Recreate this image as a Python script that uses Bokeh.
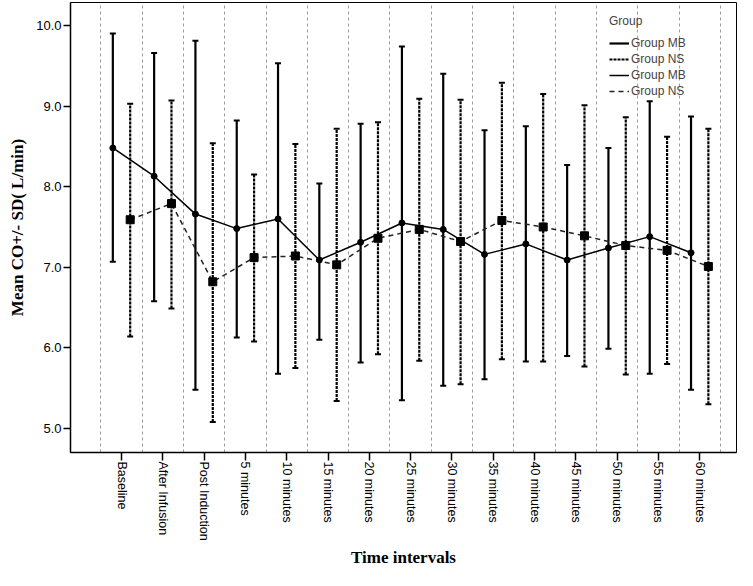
import math
from bokeh.plotting import figure
from bokeh.models import (ColumnDataSource, FixedTicker, Legend, LegendItem, Range1d)
from bokeh.embed import file_html
from bokeh.resources import INLINE

categories = ["Baseline", "After Infusion", "Post Induction", "5 minutes", "10 minutes",
              "15 minutes", "20 minutes", "25 minutes", "30 minutes", "35 minutes",
              "40 minutes", "45 minutes", "50 minutes", "55 minutes", "60 minutes"]
mb_mean = [8.48, 8.13, 7.66, 7.48, 7.60, 7.09, 7.31, 7.55, 7.47, 7.16, 7.29, 7.09, 7.24, 7.38, 7.18]
mb_upper = [9.90, 9.66, 9.81, 8.82, 9.53, 8.04, 8.78, 9.74, 9.40, 8.70, 8.75, 8.27, 8.48, 9.06, 8.87]
mb_lower = [7.07, 6.58, 5.48, 6.13, 5.68, 6.10, 5.82, 5.35, 5.53, 5.61, 5.83, 5.90, 5.99, 5.68, 5.48]
ns_mean = [7.59, 7.79, 6.82, 7.12, 7.14, 7.03, 7.36, 7.47, 7.32, 7.58, 7.50, 7.39, 7.27, 7.21, 7.01]
ns_upper = [9.03, 9.07, 8.54, 8.15, 8.53, 8.72, 8.80, 9.09, 9.08, 9.29, 9.15, 9.01, 8.86, 8.62, 8.72]
ns_lower = [6.14, 6.49, 5.08, 6.08, 5.75, 5.34, 5.92, 5.84, 5.55, 5.86, 5.83, 5.77, 5.67, 5.80, 5.30]
y_ticks = [5.0, 6.0, 7.0, 8.0, 9.0, 10.0]

n = len(categories)
idx = list(range(n))
dodge = 0.21
mb_x = [i - dodge for i in idx]
ns_x = [i + dodge for i in idx]

mb_src = ColumnDataSource(dict(x=mb_x, m=mb_mean, lo=mb_lower, hi=mb_upper))
ns_src = ColumnDataSource(dict(x=ns_x, m=ns_mean, lo=ns_lower, hi=ns_upper))

p = figure(width=737, height=570, output_backend="svg", toolbar_location=None,
           x_range=Range1d(-1.235, 14.891), y_range=Range1d(4.702, 10.285),
           min_border_left=70, min_border_right=1, min_border_top=2, min_border_bottom=118)

p.outline_line_color = "black"
p.outline_line_width = 1
p.background_fill_color = "white"
p.border_fill_color = "white"

# grid
p.ygrid.visible = False
p.xgrid.ticker = FixedTicker(ticks=[i - 0.5 for i in range(n + 1)])
p.xgrid.grid_line_color = "#9a9a9a"
p.xgrid.grid_line_dash = "3 3"
p.xgrid.grid_line_width = 1

# axes
p.xaxis.ticker = FixedTicker(ticks=idx)
p.xaxis.major_label_overrides = {i: c for i, c in enumerate(categories)}
p.xaxis.major_label_orientation = -math.pi / 2
p.xaxis.major_label_text_font = "Liberation Sans"
p.xaxis.major_label_text_font_size = "12.5px"
p.xaxis.major_label_text_color = "black"
p.xaxis.major_tick_out = 8
p.xaxis.major_tick_in = 0
p.xaxis.minor_tick_out = 0
p.xaxis.major_label_standoff = 1
p.xaxis.axis_line_width = 1.5
p.xaxis.major_tick_line_width = 1.5
p.xaxis.axis_label = "Time intervals"
p.xaxis.axis_label_text_font = "Liberation Serif"
p.xaxis.axis_label_text_font_style = "bold"
p.xaxis.axis_label_text_font_size = "17px"
p.xaxis.axis_label_text_color = "black"
p.xaxis.axis_label_standoff = 4

p.yaxis.ticker = FixedTicker(ticks=y_ticks)
p.yaxis.major_label_overrides = {v: f"{v:.1f}" for v in y_ticks}
p.yaxis.major_label_text_font = "Liberation Sans"
p.yaxis.major_label_text_font_size = "13px"
p.yaxis.major_label_text_color = "black"
p.yaxis.major_tick_out = 7
p.yaxis.major_tick_in = 0
p.yaxis.minor_tick_out = 0
p.yaxis.minor_tick_in = 0
p.yaxis.major_label_standoff = 2
p.yaxis.axis_line_width = 1.5
p.yaxis.major_tick_line_width = 1.5
p.yaxis.axis_label = "Mean CO+/- SD( L/min)"
p.yaxis.axis_label_text_font = "Liberation Serif"
p.yaxis.axis_label_text_font_style = "bold"
p.yaxis.axis_label_text_font_size = "17px"
p.yaxis.axis_label_text_color = "black"
p.yaxis.axis_label_standoff = 6

# error bars
mb_bar = p.segment(x0="x", y0="lo", x1="x", y1="hi", source=mb_src,
                   line_color="black", line_width=2.2)
ns_bar = p.segment(x0="x", y0="lo", x1="x", y1="hi", source=ns_src,
                   line_color="black", line_width=2.2, line_dash="3 1")
for src in (mb_src, ns_src):
    for col in ("lo", "hi"):
        p.scatter(x="x", y=col, source=src, marker="dash", size=6,
                  line_color="black", line_width=2)

# mean lines
mb_line = p.line(x="x", y="m", source=mb_src, line_color="black", line_width=1.5)
ns_line = p.line(x="x", y="m", source=ns_src, line_color="#222222", line_width=1.5,
                 line_dash="5 4")
p.scatter(x="x", y="m", source=mb_src, marker="circle", size=6,
          fill_color="black", line_color="black")
p.scatter(x="x", y="m", source=ns_src, marker="square", size=8,
          fill_color="black", line_color="black")

legend = Legend(items=[
    LegendItem(label="Group MB", renderers=[mb_bar]),
    LegendItem(label="Group NS", renderers=[ns_bar]),
    LegendItem(label="Group MB", renderers=[mb_line]),
    LegendItem(label="Group NS", renderers=[ns_line]),
], location=(535, 350))
legend.title = "Group"
legend.title_text_font = "Liberation Sans"
legend.title_text_font_style = "normal"
legend.title_text_font_size = "12px"
legend.title_standoff = 8
legend.label_text_font = "Liberation Sans"
legend.label_text_font_size = "12px"
legend.label_height = 14
legend.glyph_height = 14
legend.glyph_width = 20
legend.label_standoff = 2
legend.spacing = 2
legend.padding = 4
legend.margin = 0
legend.background_fill_alpha = 0
legend.border_line_alpha = 0
p.add_layout(legend, "center")

open("out.html", "w").write(file_html(p, INLINE))
